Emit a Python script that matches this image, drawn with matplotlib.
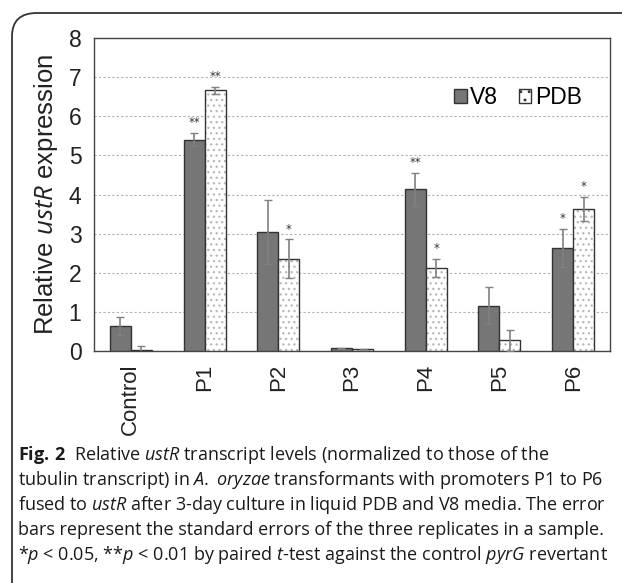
import matplotlib

matplotlib.use("Agg")
import matplotlib.pyplot as plt
import numpy as np
from matplotlib.patches import FancyBboxPatch

categories = ["Control", "P1", "P2", "P3", "P4", "P5", "P6"]
v8_values = [0.64, 5.40, 3.05, 0.07, 4.13, 1.16, 2.63]
v8_errors = [0.22, 0.17, 0.82, 0.01, 0.42, 0.47, 0.49]
pdb_values = [0.02, 6.66, 2.36, 0.04, 2.13, 0.27, 3.63]
pdb_errors = [0.12, 0.08, 0.49, 0.01, 0.23, 0.27, 0.30]
v8_marks = ["", "**", "", "", "**", "", "*"]
pdb_marks = ["", "**", "*", "", "*", "", "*"]

plt.rcParams["hatch.linewidth"] = 0.9
plt.rcParams["mathtext.fontset"] = "custom"
plt.rcParams["mathtext.rm"] = "Open Sans"
plt.rcParams["mathtext.it"] = "Open Sans:italic"
plt.rcParams["mathtext.bf"] = "Open Sans:bold"

fig = plt.figure(figsize=(6.22, 5.83), dpi=100)
W, H = 622, 583

# rounded figure frame
frame = FancyBboxPatch((12 / W, -0.2), 1.2, 1 - 13 / H + 0.2,
                       boxstyle="round,pad=0,rounding_size=0.04",
                       transform=fig.transFigure, fill=False,
                       edgecolor="#333333", linewidth=1.3, clip_on=False)
fig.patches.append(frame)

ax = fig.add_axes([94 / W, 1 - 351 / H, (610 - 94) / W, (351 - 38) / H])
x = np.arange(len(categories))
width = 0.285
err_kw = dict(ecolor="#808080", elinewidth=1.2, capsize=3, capthick=1.0)

ax.bar(x - width / 2, v8_values, width, yerr=v8_errors, color="#767676",
       edgecolor="#333333", linewidth=1.0, label="V8", error_kw=err_kw, zorder=3)
# PDB: light grey dot hatch underneath, dark outline on top
ax.bar(x + width / 2, pdb_values, width, color="white", edgecolor="#b8b8b8",
       linewidth=0, hatch="...", zorder=3)
ax.bar(x + width / 2, pdb_values, width, yerr=pdb_errors, color="none",
       edgecolor="#333333", linewidth=1.0, error_kw=err_kw, zorder=4)

for xi, val, err, mark in zip(x - width / 2, v8_values, v8_errors, v8_marks):
    if mark:
        ax.text(xi, val + err + 0.1, mark, ha="center", va="bottom",
                fontsize=8.5, color="#333333")
for xi, val, err, mark in zip(x + width / 2, pdb_values, pdb_errors, pdb_marks):
    if mark:
        ax.text(xi, val + err + 0.1, mark, ha="center", va="bottom",
                fontsize=8.5, color="#333333")

ax.set_xlim(-0.5, len(categories) - 0.5)
ax.set_ylim(0, 8)
ax.set_yticks(range(0, 9))
ax.set_xticks(x)
ax.set_xticklabels(categories, rotation=90, fontsize=16,
                   family="Liberation Sans", color="#222222")
ax.tick_params(axis="y", labelsize=16.5, length=0, pad=9, labelcolor="#222222")
ax.tick_params(axis="x", length=0, pad=9)
for lab in ax.get_yticklabels():
    lab.set_family("Liberation Sans")
ax.yaxis.grid(True, linestyle=(0, (2, 2)), color="#b0b0b0", linewidth=0.8, zorder=0)
ax.set_axisbelow(True)
for sp in ax.spines.values():
    sp.set_color("#444444")
    sp.set_linewidth(1.0)

ax.set_ylabel("Relative $\\it{ustR}$ expression", fontsize=18.5,
              family="Liberation Sans", color="#222222", labelpad=6)

from matplotlib.patches import Patch
handles = [Patch(facecolor="#767676", edgecolor="#333333", label="V8"),
           Patch(facecolor="white", edgecolor="#333333", hatch="..", label="PDB")]
ax.legend(handles=handles, loc="center right", bbox_to_anchor=(0.985, 0.81), ncol=2,
          frameon=False, handlelength=0.55, handleheight=0.55,
          handletextpad=0.15, columnspacing=0.9,
          prop={"family": "Liberation Sans", "size": 16.5})

caption = [
    "$\\bf{Fig.\\,2}$  Relative $\\it{ustR}$ transcript levels (normalized to those of the",
    "tubulin transcript) in $\\it{A.}$ $\\it{oryzae}$ transformants with promoters P1 to P6",
    "fused to $\\it{ustR}$ after 3-day culture in liquid PDB and V8 media. The error",
    "bars represent the standard errors of the three replicates in a sample.",
    "*$\\it{p}$ < 0.05, **$\\it{p}$ < 0.01 by paired $\\it{t}$-test against the control $\\it{pyrG}$ revertant",
]
for i, line in enumerate(caption):
    fig.text(18 / W, 1 - (455 + 25 * i) / H, line, fontsize=13,
             family="Open Sans", va="center", ha="left", color="#1a1a1a")

fig.savefig("out.png", dpi=100)
